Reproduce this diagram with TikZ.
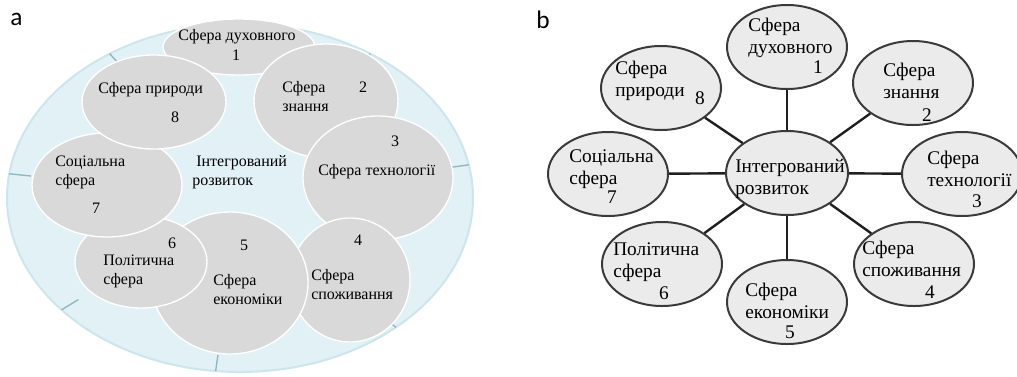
\documentclass[tikz,border=0pt]{standalone}
\usepackage{fontspec}
\setmainfont{Liberation Serif}
\newfontfamily\panelfont{Carlito}
\usepackage{xcolor}
\usepackage{tikz}
\usetikzlibrary{shapes.geometric,calc}
\definecolor{RingBlue}{HTML}{E1F1F6}
\definecolor{RingEdge}{HTML}{CDE5ED}
\definecolor{TickBlue}{HTML}{8DB6C0}
\definecolor{SphereGray}{HTML}{D9D9D9}
\definecolor{LightGray}{HTML}{EBEBEB}
\definecolor{DarkEdge}{HTML}{3A3A3A}

\begin{document}
\begin{tikzpicture}[
        x=0.75pt, y=-0.75pt,
        % --- STYLE PANEL A ---
        ring/.style={
            ellipse,
            draw=RingEdge,
            line width=1.5pt,
            fill=RingBlue,
            inner sep=0pt
        },
        tick_a/.style={draw=TickBlue, line width=1pt},
        sphere_a/.style 2 args={
            ellipse,
            draw=white,
            line width=1pt,
            fill=SphereGray,
            inner sep=0pt,
            minimum width=#1,
            minimum height=#2
        },
        text_a/.style={inner sep=0pt, align=left, anchor=west, font=\fontsize{12}{14.25}\selectfont},
        num_a/.style={inner sep=0pt, font=\fontsize{12}{14}\selectfont},
        % --- STYLE PANEL B ---
        sphere_b/.style={
            ellipse,
            draw=DarkEdge,
            line width=1.5pt,
            fill=LightGray,
            inner sep=0pt,
            minimum width=90pt,
            minimum height=63pt
        },
        spoke/.style={draw=black!88, line width=1.8pt},
        text_b/.style={inner sep=0pt, align=left, anchor=west, font=\fontsize{14.5}{16.5}\selectfont},
        num_b/.style={inner sep=0pt, font=\fontsize{14.5}{16.5}\selectfont},
        panel_label/.style={inner sep=0pt, anchor=base west, font=\panelfont\fontsize{19}{20}\selectfont}
    ]
    \useasboundingbox (0,0) rectangle (1017,376);

        % --- NHÃN PANEL ---
        \node[panel_label] (la) at (10,25) {a};
        \node[panel_label] (lb) at (536,28) {b};

        % --- PANEL A: VÒNG NGOÀI ---
        \node[ring, minimum width=349.5pt, minimum height=261pt] (ring) at (240,198) {};
        \foreach \t in {236,304,349,48,96,140,188} {
            \draw[tick_a] ($(ring)+({233*cos(\t)},{174*sin(\t)})$) -- ($(ring)+({211*cos(\t)},{158*sin(\t)})$);
        }

        % --- PANEL A: CÁC HÌNH ELIP ---
        \foreach \n/\x/\y/\w/\h in {1/239/47/114/42, 2/326/101/108/85.5, 3/378/178/112.5/93,
                4/350/280/90/93, 5/230/283/117/106.5, 6/141/262/99/69,
                7/107/185/112.5/78, 8/154/102/108/70.5} {
            \node[sphere_a={\w pt}{\h pt}] (a\n) at (\x,\y) {};
        }

        % --- PANEL A: CHỮ ---
        \node[text_a, anchor=center] (ta1) at (237,37) {Сфера духовного};
        \node[num_a] (na1) at (236,55) {1};
        \node[text_a] (ta2) at (282,96.5) {Сфера\\знання};
        \node[num_a] (na2) at (363,87) {2};
        \node[text_a] (ta3) at (318,172) {Сфера технології};
        \node[num_a] (na3) at (395,141) {3};
        \node[text_a] (ta4) at (311,285) {Сфера\\споживання};
        \node[num_a] (na4) at (358,240) {4};
        \node[text_a] (ta5) at (213,290) {Сфера\\економіки};
        \node[num_a] (na5) at (244,245) {5};
        \node[text_a] (ta6) at (103,271.5) {Політична\\сфера};
        \node[num_a] (na6) at (172,243) {6};
        \node[text_a] (ta7) at (55,172.5) {Соціальна\\сфера};
        \node[num_a] (na7) at (96,208) {7};
        \node[text_a] (ta8) at (98,90) {Сфера природи};
        \node[num_a] (na8) at (175,117) {8};
        \node[text_a] (tac) at (192,172) {\hspace*{3pt}Інтегрований\\розвиток};

        % --- PANEL B: CÂY SAO ---
        \node[sphere_b, minimum width=91.5pt] (bc) at (787,173) {};
        \foreach \n/\x/\y in {1/787/47, 2/913/83, 3/962/174, 4/914/264,
                5/787/302, 6/662/264, 7/608/174, 8/661/88} {
            \node[sphere_b] (b\n) at (\x,\y) {};
            \draw[spoke] (bc) -- (b\n);
        }

        % --- PANEL B: CHỮ ---
        \node[text_b] (tb1) at (748,38) {Сфера\\духовного};
        \node[num_b] (nb1) at (818,67) {1};
        \node[text_b] (tb2) at (883,81) {Сфера\\знання};
        \node[num_b] (nb2) at (927,115) {2};
        \node[text_b] (tb3) at (927,169) {Сфера\\технології};
        \node[num_b] (nb3) at (977,201) {3};
        \node[text_b] (tb4) at (862,259) {Сфера\\споживання};
        \node[num_b] (nb4) at (930,292) {4};
        \node[text_b] (tb5) at (745,301) {Сфера\\економіки};
        \node[num_b] (nb5) at (790,332) {5};
        \node[text_b] (tb6) at (613,262.5) {Політична\\сфера};
        \node[num_b] (nb6) at (664,293) {6};
        \node[text_b] (tb7) at (569,169) {Соціальна\\сфера};
        \node[num_b] (nb7) at (612,197) {7};
        \node[text_b] (tb8) at (615,81) {Сфера\\природи};
        \node[num_b] (nb8) at (700,98) {8};
        \node[text_b] (tbc) at (735,178.5) {Інтегрований\\розвиток};

    \end{tikzpicture}
\end{document}
